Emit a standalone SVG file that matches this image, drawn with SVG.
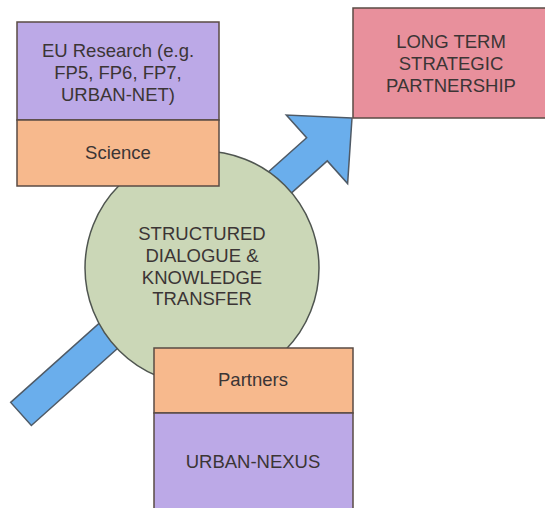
<svg xmlns="http://www.w3.org/2000/svg" width="545" height="508" viewBox="0 0 545 508">
  <style>
    .box { stroke: #5a4b44; stroke-width: 1.5; }
    .purple { fill: #bca9e7; }
    .orange { fill: #f7b98d; }
    .pink { fill: #e8909c; }
    .label { font-family: "Liberation Sans", Arial, sans-serif; font-size: 18.5px; fill: #3b3535; text-anchor: middle; }
  </style>
  <rect width="545" height="508" fill="#ffffff"/>

  <!-- connector: wide block arrow heading to the partnership box -->
  <g id="connectors">
    <polygon transform="translate(352,118) rotate(-41.8)"
             points="0,0 -47,-46 -47,-15.5 -444,-15.5 -444,15.5 -47,15.5 -47,46"
             fill="#6aaeec" stroke="#4f5a66" stroke-width="1.5" stroke-linejoin="miter"/>
  </g>

  <!-- central dialogue circle -->
  <g id="dialogue">
    <circle cx="202" cy="268" r="117" fill="#cbd7b7" stroke="#4f5550" stroke-width="1.5"/>
    <text class="label" x="202" y="240">STRUCTURED</text>
    <text class="label" x="202" y="262">DIALOGUE &amp;</text>
    <text class="label" x="202" y="284">KNOWLEDGE</text>
    <text class="label" x="202" y="305">TRANSFER</text>
  </g>

  <!-- research / science stack -->
  <g id="eu-research">
    <rect class="box purple" x="17" y="22" width="202" height="98"/>
    <text class="label" x="118" y="57">EU Research (e.g.</text>
    <text class="label" x="118" y="79">FP5, FP6, FP7,</text>
    <text class="label" x="118" y="101">URBAN-NET)</text>
  </g>
  <g id="science">
    <rect class="box orange" x="17" y="120" width="202" height="66"/>
    <text class="label" x="118" y="159">Science</text>
  </g>

  <!-- target box -->
  <g id="partnership">
    <rect class="box pink" x="353" y="8" width="200" height="110"/>
    <text class="label" x="451" y="48">LONG TERM</text>
    <text class="label" x="451" y="70">STRATEGIC</text>
    <text class="label" x="451" y="92">PARTNERSHIP</text>
  </g>

  <!-- partners / project stack -->
  <g id="partners">
    <rect class="box orange" x="154" y="348" width="199" height="65"/>
    <text class="label" x="253" y="386">Partners</text>
  </g>
  <g id="urban-nexus">
    <rect class="box purple" x="154" y="413" width="199" height="105"/>
    <text class="label" x="253" y="468">URBAN-NEXUS</text>
  </g>
</svg>
